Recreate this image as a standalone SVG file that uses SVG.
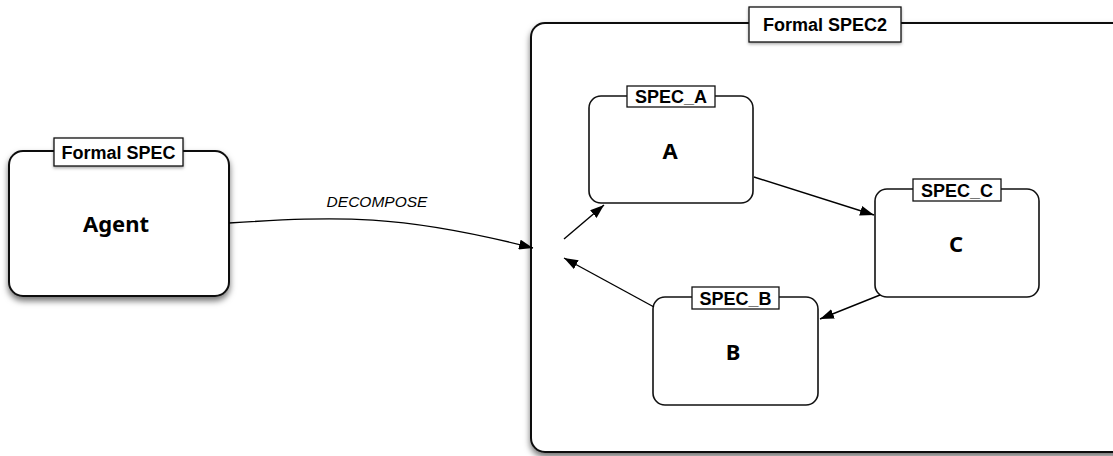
<svg xmlns="http://www.w3.org/2000/svg" width="1113" height="456" viewBox="0 0 1113 456">
  <defs>
    <filter id="shadow" x="-10%" y="-10%" width="120%" height="130%">
      <feDropShadow dx="0" dy="4" stdDeviation="3" flood-color="#000" flood-opacity="0.55"/>
    </filter>
    <filter id="tagShadow" x="-10%" y="-20%" width="120%" height="160%">
      <feDropShadow dx="0" dy="1.5" stdDeviation="1.5" flood-color="#000" flood-opacity="0.35"/>
    </filter>
    <marker id="arrow" viewBox="0 0 14 10" refX="14" refY="5" markerWidth="14" markerHeight="10" markerUnits="userSpaceOnUse" orient="auto">
      <path d="M0,0 L14,5 L0,10 Z" fill="#000"/>
    </marker>
    <style>
      .box { fill: #fff; stroke: #111; stroke-width: 1.6; }
      .bigbox { fill: #fff; stroke: #111; stroke-width: 2; }
      .tag { fill: #fff; stroke: #111; stroke-width: 1.3; }
      .tagText { font-family: "Liberation Sans", Arial, sans-serif; font-weight: bold; font-size: 18px; fill: #000; text-anchor: middle; }
      .name { font-family: "Noto Sans", "DejaVu Sans", sans-serif; font-weight: bold; font-size: 22px; fill: #000; text-anchor: middle; }
      .edge { fill: none; stroke: #000; stroke-width: 1.4; marker-end: url(#arrow); }
      .edgeLabel { font-family: "Liberation Sans", Arial, sans-serif; font-style: italic; font-size: 15.5px; fill: #000; text-anchor: middle; }
    </style>
  </defs>

  <!-- container: Formal SPEC2 -->
  <g id="spec2">
    <rect class="bigbox" x="531" y="23" width="600" height="429" rx="14" filter="url(#shadow)"/>
    <rect class="tag" x="749" y="7" width="152" height="35" filter="url(#tagShadow)"/>
    <text class="tagText" x="825" y="31">Formal SPEC2</text>
  </g>

  <!-- Agent -->
  <g id="agent">
    <rect class="bigbox" x="9" y="151" width="220" height="145" rx="14" filter="url(#shadow)"/>
    <rect class="tag" x="54" y="138" width="129" height="28" filter="url(#tagShadow)"/>
    <text class="tagText" x="118.5" y="158.5">Formal SPEC</text>
    <text class="name" x="116" y="232">Agent</text>
  </g>

  <!-- A -->
  <g id="nodeA">
    <rect class="box" x="589" y="96" width="164" height="107" rx="12"/>
    <rect class="tag" x="627" y="86" width="88" height="21"/>
    <text class="tagText" x="671" y="103">SPEC_A</text>
    <text class="name" x="670" y="159">A</text>
  </g>

  <!-- C -->
  <g id="nodeC">
    <rect class="box" x="875" y="189" width="164" height="108" rx="12"/>
    <rect class="tag" x="913" y="179" width="88" height="22"/>
    <text class="tagText" x="957" y="196.5">SPEC_C</text>
    <text class="name" x="956" y="252">C</text>
  </g>

  <!-- B -->
  <g id="nodeB">
    <rect class="box" x="653" y="297" width="165" height="108" rx="12"/>
    <rect class="tag" x="692" y="287" width="87" height="22"/>
    <text class="tagText" x="735.5" y="304.5">SPEC_B</text>
    <text class="name" x="733" y="360">B</text>
  </g>

  <!-- connectors -->
  <g id="connectors">
    <path class="edge" d="M229,223 C340,216 400,214 533,248"/>
    <text class="edgeLabel" x="377" y="207">DECOMPOSE</text>
    <path class="edge" d="M564,239 L604,205"/>
    <path class="edge" d="M754,177 L874,215"/>
    <path class="edge" d="M880,295 L820,319"/>
    <path class="edge" d="M654,307 L564,258"/>
  </g>
</svg>
